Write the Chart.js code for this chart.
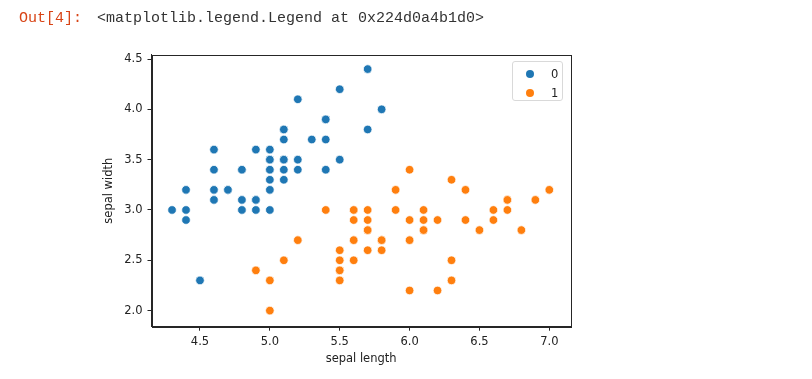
<!DOCTYPE html>
<html><head><meta charset="utf-8">
<script src="https://cdn.jsdelivr.net/npm/chart.js@4"></script>
<style>
html,body{margin:0;padding:0;background:#fff;}
#wrap{position:relative;width:812px;height:379px;overflow:hidden;background:#fff;}
#c{position:absolute;left:0;top:0;}
.mono{position:absolute;top:10px;font-family:"Liberation Mono",monospace;font-size:15px;line-height:18px;white-space:pre;}
#prompt{left:19px;color:#d84315;}
#repr{left:97px;color:#333;}
#legend{position:absolute;left:512px;top:61px;width:51px;height:40px;border:1px solid #d9d9d9;border-radius:3px;background:rgba(255,255,255,0.8);box-sizing:border-box;}
.li{position:absolute;left:0;width:50px;height:16px;font-family:"DejaVu Sans",sans-serif;font-size:11.5px;color:#222;}
.li .dot{position:absolute;left:13px;top:4px;width:8px;height:8px;border-radius:50%;}
.li .tx{position:absolute;left:38px;top:0;line-height:16px;}
</style></head>
<body>
<div id="wrap">
<canvas id="c" width="812" height="379"></canvas>
<div id="prompt" class="mono">Out[4]:</div>
<div id="repr" class="mono">&lt;matplotlib.legend.Legend at 0x224d0a4b1d0&gt;</div>
<div id="legend"></div>
</div>
<script>
const seriesLabels = ['0', '1'];
const seriesColors = ['#1f77b4', '#ff7f0e'];
const xTicks = [4.5, 5.0, 5.5, 6.0, 6.5, 7.0];
const yTicks = [2.0, 2.5, 3.0, 3.5, 4.0, 4.5];
const xTitle = 'sepal length';
const yTitle = 'sepal width';

const length0 = [5.1,4.9,4.7,4.6,5.0,5.4,4.6,5.0,4.4,4.9,5.4,4.8,4.8,4.3,5.8,5.7,5.4,5.1,5.7,5.1,5.4,5.1,4.6,5.1,4.8,5.0,5.0,5.2,5.2,4.7,4.8,5.4,5.2,5.5,4.9,5.0,5.5,4.9,4.4,5.1,5.0,4.5,4.4,5.0,5.1,4.8,5.1,4.6,5.3,5.0];
const width0  = [3.5,3.0,3.2,3.1,3.6,3.9,3.4,3.4,2.9,3.1,3.7,3.4,3.0,3.0,4.0,4.4,3.9,3.5,3.8,3.8,3.4,3.7,3.6,3.3,3.4,3.0,3.4,3.5,3.4,3.2,3.1,3.4,4.1,4.2,3.1,3.2,3.5,3.6,3.0,3.4,3.5,2.3,3.2,3.5,3.8,3.0,3.8,3.2,3.7,3.3];
const length1 = [7.0,6.4,6.9,5.5,6.5,5.7,6.3,4.9,6.6,5.2,5.0,5.9,6.0,6.1,5.6,6.7,5.6,5.8,6.2,5.6,5.9,6.1,6.3,6.1,6.4,6.6,6.8,6.7,6.0,5.7,5.5,5.5,5.8,6.0,5.4,6.0,6.7,6.3,5.6,5.5,5.5,6.1,5.8,5.0,5.6,5.7,5.7,6.2,5.1,5.7];
const width1  = [3.2,3.2,3.1,2.3,2.8,2.8,3.3,2.4,2.9,2.7,2.0,3.0,2.2,2.9,2.9,3.1,3.0,2.7,2.2,2.5,3.2,2.8,2.5,2.8,2.9,3.0,2.8,3.0,2.9,2.6,2.4,2.4,2.7,2.7,3.0,3.4,3.1,2.3,3.0,2.5,2.6,3.0,2.6,2.3,2.7,3.0,2.9,2.9,2.5,2.8];

const toPts = (xs, ys) => xs.map((x, i) => ({x: x, y: ys[i]}));
const seriesData = [toPts(length0, width0), toPts(length1, width1)];

const font = {family: 'DejaVu Sans', size: 11.5};
const axisColor = '#262626';

const frame = {
  id: 'frame',
  afterDatasetsDraw(chart) {
    const a = chart.chartArea, ctx = chart.ctx;
    ctx.save();
    ctx.strokeStyle = axisColor;
    ctx.lineWidth = 1;
    ctx.strokeRect(Math.round(a.left) + 0.5, Math.round(a.top) + 0.5,
                   Math.round(a.right) - Math.round(a.left), Math.round(a.bottom) - Math.round(a.top));
    ctx.restore();
  }
};

new Chart(document.getElementById('c'), {
  type: 'scatter',
  data: {
    datasets: seriesData.map((d, i) => ({
      label: seriesLabels[i],
      data: d,
      backgroundColor: seriesColors[i],
      borderColor: '#ffffff',
      borderWidth: 0.75,
      pointRadius: 4.3,
      pointHoverRadius: 4.3
    }))
  },
  options: {
    responsive: false,
    animation: false,
    events: [],
    layout: {padding: {left: 102.1, top: 54.7, right: 241.3, bottom: 13.1}},
    plugins: {legend: {display: false}, tooltip: {enabled: false}},
    scales: {
      x: {
        type: 'linear', min: 4.153, max: 7.153,
        afterBuildTicks: s => { s.ticks = xTicks.map(v => ({value: v})); },
        afterFit: s => { s.height = 39.2; },
        grid: {drawOnChartArea: false, drawTicks: true, tickLength: 4, color: axisColor, lineWidth: 1},
        border: {display: true, color: axisColor, width: 1},
        ticks: {font: font, color: '#222', padding: 4, maxRotation: 0, callback: v => v.toFixed(1)},
        title: {display: true, text: xTitle, font: font, color: '#222', padding: 0}
      },
      y: {
        type: 'linear', min: 1.84, max: 4.543,
        afterBuildTicks: s => { s.ticks = yTicks.map(v => ({value: v})); },
        afterFit: s => { s.width = 49.4; },
        grid: {drawOnChartArea: false, drawTicks: true, tickLength: 4, color: axisColor, lineWidth: 1},
        border: {display: true, color: axisColor, width: 1},
        ticks: {font: font, color: '#222', padding: 5, callback: v => v.toFixed(1)},
        title: {display: true, text: yTitle, font: font, color: '#222', padding: 0}
      }
    }
  },
  plugins: [frame]
});

const lg = document.getElementById('legend');
seriesLabels.forEach((lab, i) => {
  const row = document.createElement('div');
  row.className = 'li';
  row.style.top = (4 + i * 19) + 'px';
  row.innerHTML = '<span class="dot" style="background:' + seriesColors[i] + '"></span><span class="tx">' + lab + '</span>';
  lg.appendChild(row);
});
</script>
</body></html>
